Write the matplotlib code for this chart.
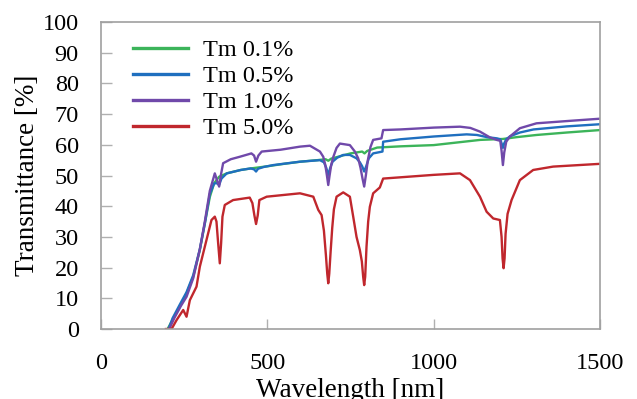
import numpy as np
import matplotlib
matplotlib.use('Agg')
import matplotlib.pyplot as plt

plt.rcParams['font.family'] = ['Liberation Serif', 'DejaVu Serif']

# Tm 0.1%
wl_01 = [200, 215, 237, 257, 277, 297, 312, 327, 340, 355, 378, 420, 450, 500, 550, 600,
         650, 675, 683, 692, 750, 785, 792, 800, 830, 900, 1000, 1140, 1208, 1250, 1309, 1400, 1500]
t_01 = [0, 3, 7.3, 11.6, 17, 25.7, 34.4, 43, 47.5, 49.6, 50.7, 51.8, 52.3, 53, 53.8, 54.5,
        55, 55.3, 54.8, 55.5, 57.2, 57.8, 57.2, 58, 59.1, 59.5, 59.9, 61.6, 61.9, 62.5, 63.2, 64, 64.8]

# Tm 0.5%
wl_05 = [203, 215, 237, 257, 277, 297, 312, 327, 340, 348, 355, 362, 378, 420, 450, 460, 466, 472,
         490, 518, 598, 658, 670, 677, 683, 689, 696, 710, 728, 748, 768, 778, 785, 791, 797, 805,
         818, 846, 848, 900, 1000, 1099, 1130, 1160, 1190, 1200, 1204, 1208, 1212, 1218, 1230,
         1259, 1300, 1400, 1500]
t_05 = [0, 3.5, 8, 12, 17.5, 26, 34.4, 44, 47.4, 47.5, 46.9, 49, 50.7, 51.8, 52.3, 52, 51.3, 52.2,
        52.8, 53.4, 54.5, 55, 54.3, 52.5, 50.2, 52.5, 54.5, 55.8, 56.7, 56.7, 55.6, 54.3, 53, 51.3,
        53, 55.6, 57.2, 57.8, 61, 61.8, 62.7, 63.4, 63.2, 62.5, 62.1, 61.8, 60.5, 59, 60.5,
        61.8, 62.8, 64, 65, 66, 66.7]

# Tm 1.0%
wl_10 = [205, 220, 240, 257, 277, 297, 312, 327, 342, 350, 355, 360, 367, 390, 417, 452, 460, 466,
         473, 483, 540, 598, 628, 658, 668, 674, 679, 683, 687, 692, 698, 708, 718, 748, 763,
         773, 780, 786, 791, 796, 802, 810, 818, 843, 848, 900, 1000, 1079, 1110, 1139, 1169,
         1189, 1200, 1204, 1208, 1212, 1218, 1229, 1259, 1309, 1409, 1500]
t_10 = [0, 3.5, 7.5, 10.5, 16.5, 26, 35, 45, 50.7, 48, 46.4, 50, 54, 55.3, 56.1, 57.2, 56.5, 54.5,
        56.5, 57.8, 58.4, 59.4, 59.7, 57.8, 56.1, 53.5, 50, 46.9, 50, 53.5, 56, 59, 60.4, 59.9, 57.8,
        55.6, 52.5, 49, 46.4, 50, 55, 59.3, 61.6, 62.1, 64.8, 65, 65.6, 65.9, 65.5, 64.3, 62.4,
        61.6, 61.3, 58, 53.4, 57.5, 61, 62.7, 65.4, 67, 67.8, 68.5]

# Tm 5.0%
wl_50 = [195, 212, 227, 247, 257, 267, 277, 287, 297, 317, 332, 342, 347, 352, 357, 361, 365,
         372, 397, 447, 455, 461, 466, 471, 476, 498, 598, 638, 653, 663, 670, 676, 680, 683,
         686, 690, 695, 700, 708, 728, 748, 758, 768, 778, 784, 788, 791, 794, 798, 803, 808,
         818, 838, 848, 999, 1079, 1109, 1139, 1159, 1179, 1199, 1204, 1207, 1210, 1213, 1216,
         1222, 1234, 1259, 1299, 1359, 1500]
t_50 = [0, 0, 2.9, 6.2, 4.0, 9.4, 11.6, 13.8, 20.3, 29, 35.5, 36.6, 35, 28, 21.4, 28, 36.6,
        40.4, 42, 42.8, 41, 37, 34.2, 37, 42, 43.1, 44.2, 43.1, 38.8, 37.1, 32, 24, 18, 14.9,
        18, 25, 33, 39, 43.1, 44.5, 43.1, 36.6, 30, 25.7, 22, 17, 14.3, 17, 26.8, 35, 39.8,
        44.2, 46.1, 49, 50.2, 50.7, 48.5, 43.1, 38.2, 36, 35.5, 30, 23, 19.8, 23, 31,
        37.5, 42, 48.5, 51.8, 52.9, 53.8]

series = [
    ('Tm 0.1%', wl_01, t_01, '#3cb45a'),
    ('Tm 0.5%', wl_05, t_05, '#1f6fbf'),
    ('Tm 1.0%', wl_10, t_10, '#7049aa'),
    ('Tm 5.0%', wl_50, t_50, '#c0272d'),
]

fig = plt.figure(figsize=(6.37, 3.99), dpi=100)
ax = fig.add_axes([0.1586, 0.1754, 0.7834, 0.7695])

for label, wl, t, color in series:
    ax.plot(wl, t, color=color, linewidth=1.7, label=label)

ax.set_xlim(0, 1500)
ax.set_ylim(0, 100)
ax.set_xticks([0, 500, 1000, 1500])
ax.set_yticks(np.arange(0, 101, 10))

for s in ax.spines.values():
    s.set_color('#a0a0a0')
    s.set_linewidth(1.2)

ax.tick_params(axis='x', direction='in', length=7, width=1, color='#b0b0b0',
               labelsize=17.5, pad=17)
ax.tick_params(axis='y', direction='in', length=8, width=1, color='#b0b0b0',
               labelsize=17.5, pad=16)

ax.set_xlabel('Wavelength [nm]', fontsize=19.5, labelpad=3)
ax.set_ylabel('Transmittance [%]', fontsize=19.5, labelpad=2)

leg = ax.legend(loc='upper left', bbox_to_anchor=(0.03, 1.0), frameon=False, fontsize=17.5,
                handlelength=2.25, handletextpad=0.65, labelspacing=0.17, borderpad=0.2)
for h in leg.get_lines():
    h.set_linewidth(2.4)

fig.savefig('out.png', dpi=100)
